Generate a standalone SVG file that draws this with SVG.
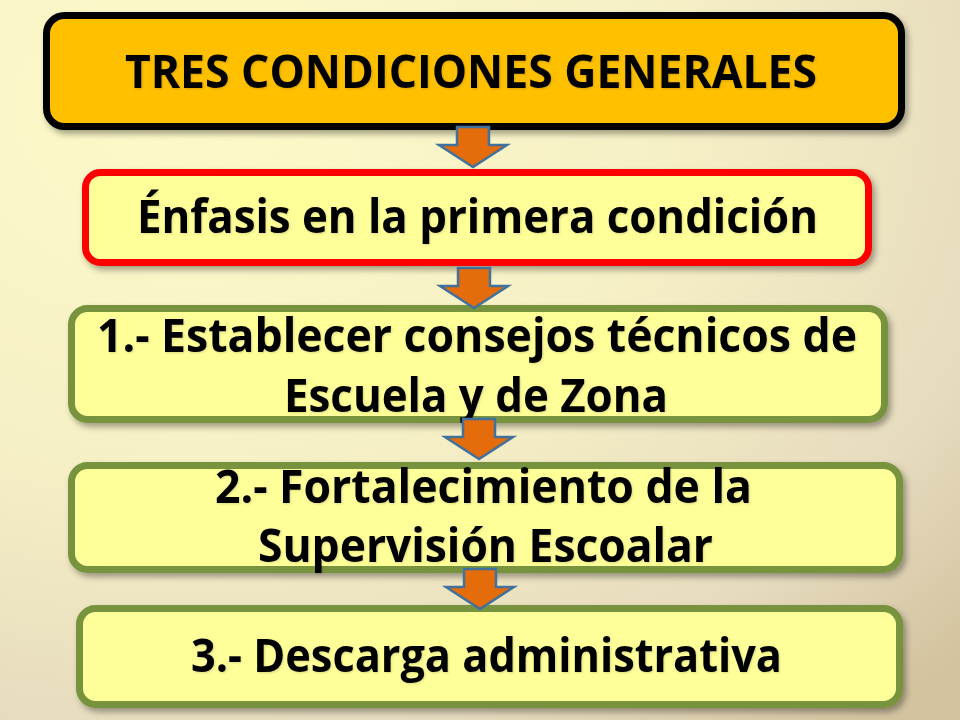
<svg xmlns="http://www.w3.org/2000/svg" width="960" height="720" viewBox="0 0 960 720">
<defs>
<radialGradient id="bg" cx="0.2" cy="0.15" r="1.1">
<stop offset="0" stop-color="#FDFAC8"/>
<stop offset="0.45" stop-color="#F6F0C6"/>
<stop offset="0.8" stop-color="#E6DBBE"/>
<stop offset="1" stop-color="#D3C3A0"/>
</radialGradient>
<filter id="sh" x="-5%" y="-10%" width="115%" height="130%">
<feDropShadow dx="3" dy="4" stdDeviation="3" flood-color="#000" flood-opacity="0.35"/>
</filter>
<filter id="tsh" x="-5%" y="-20%" width="110%" height="140%">
<feDropShadow dx="1" dy="1" stdDeviation="1" flood-color="#000" flood-opacity="0.15"/>
</filter>
<path id="arr" d="M-16,0 H16 V18 H34 L0,40 L-34,18 H-16 Z"/>
</defs>
<style>
.box{stroke-width:7;filter:url(#sh)}
.t{font-family:"Open Sans","Noto Sans","DejaVu Sans",sans-serif;font-weight:700;font-size:47px;fill:#000;filter:url(#tsh)}
.a{fill:#E46C0A;stroke:#41719C;stroke-width:2.5;stroke-linejoin:miter}
</style>
<rect x="0" y="0" width="960" height="720" fill="url(#bg)"/>

<g id="node-title">
<rect class="box" x="46.5" y="15.5" width="855" height="111" rx="18" fill="#FFC000" stroke="#000"/>
<text class="t" x="125" y="88" textLength="692" lengthAdjust="spacingAndGlyphs">TRES CONDICIONES GENERALES</text>
</g>

<g id="node-enfasis">
<rect class="box" x="85.5" y="172.5" width="783" height="90" rx="15" fill="#FFFF99" stroke="#FF0000"/>
<text class="t" x="137" y="233" textLength="681" lengthAdjust="spacingAndGlyphs">Énfasis en la primera condición</text>
</g>

<g id="node-1">
<rect class="box" x="71.5" y="308.5" width="813" height="111" rx="16" fill="#FFFF99" stroke="#77933C"/>
<text class="t" x="97" y="352" textLength="760" lengthAdjust="spacingAndGlyphs">1.- Establecer consejos técnicos de</text>
<text class="t" x="284" y="412" textLength="384" lengthAdjust="spacingAndGlyphs">Escuela y de Zona</text>
</g>

<g id="node-2">
<rect class="box" x="71.5" y="465.5" width="828" height="104" rx="16" fill="#FFFF99" stroke="#77933C"/>
<text class="t" x="215" y="503" textLength="537" lengthAdjust="spacingAndGlyphs">2.- Fortalecimiento de la</text>
<text class="t" x="258" y="562" textLength="455" lengthAdjust="spacingAndGlyphs">Supervisión Escoalar</text>
</g>

<g id="node-3">
<rect class="box" x="79.5" y="608.5" width="820" height="96" rx="16" fill="#FFFF99" stroke="#77933C"/>
<text class="t" x="191" y="672" textLength="591" lengthAdjust="spacingAndGlyphs">3.- Descarga administrativa</text>
</g>

<g id="connectors">
<use href="#arr" class="a" transform="translate(473,127)"/>
<use href="#arr" class="a" transform="translate(474,268)"/>
<use href="#arr" class="a" transform="translate(479,419)"/>
<use href="#arr" class="a" transform="translate(480,569)"/>
</g>
</svg>
